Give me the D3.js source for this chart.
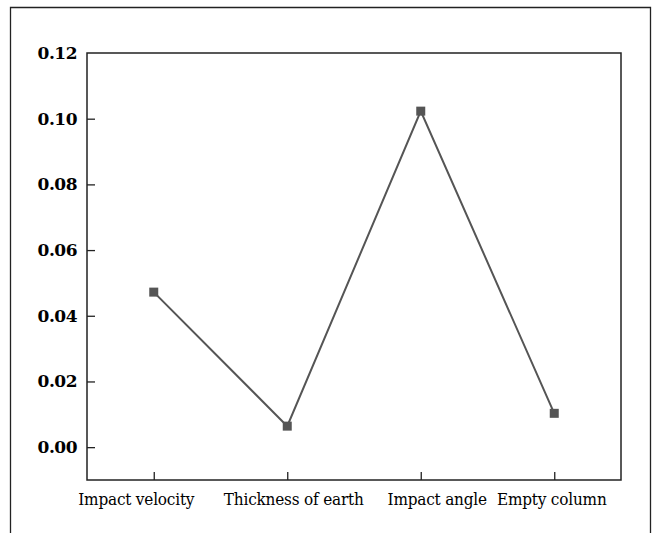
<!DOCTYPE html>
<html>
<head>
<meta charset="utf-8">
<script src="https://cdn.jsdelivr.net/npm/d3@7/dist/d3.min.js"></script>
<style>
  html, body { margin: 0; padding: 0; background: #fff; }
  svg { display: block; }
</style>
</head>
<body>
<div id="chart"></div>
<script>
// factor names and their range values
const factors = ["Impact velocity", "Thickness of earth", "Impact angle", "Empty column"];
const rangeValues = [0.0472, 0.0064, 0.1023, 0.0103];
const yTicks = [0, 0.02, 0.04, 0.06, 0.08, 0.10, 0.12];

// the source figure sets its category labels a little off their ticks
const labelNudge = { "Impact velocity": -18, "Thickness of earth": 6, "Impact angle": 16, "Empty column": -3 };

const width = 657, height = 533;
const margin = { top: 53, right: 36, bottom: 53, left: 87 };
const innerW = width - margin.left - margin.right;
const innerH = height - margin.top - margin.bottom;

const svg = d3.select("#chart").append("svg")
    .attr("width", width)
    .attr("height", height);

// outer frame (open at the bottom, as in the cropped figure)
svg.append("path")
    .attr("d", `M10.5,${height}V7.5H650.5V${height}`)
    .attr("fill", "none")
    .attr("stroke", "#222")
    .attr("stroke-width", 1.3);

const chart = svg.append("g")
    .attr("transform", `translate(${margin.left},${margin.top})`);

const x = d3.scalePoint()
    .domain(factors)
    .range([0, innerW])
    .padding(0.5);

const y = d3.scaleLinear()
    .domain([-0.01, 0.12])
    .range([innerH, 0]);

// plot box
chart.append("rect")
    .attr("width", innerW)
    .attr("height", innerH)
    .attr("fill", "none")
    .attr("stroke", "#222")
    .attr("stroke-width", 1.5);

// y axis, ticks pointing inward
const yAxis = chart.append("g")
    .call(d3.axisLeft(y).tickValues(yTicks).tickSize(-8).tickPadding(10).tickFormat(d3.format(".2f")));
yAxis.select(".domain").remove();
yAxis.selectAll("line").attr("stroke", "#222").attr("stroke-width", 1.3);
yAxis.selectAll("text")
    .style("font-family", "'DejaVu Serif', serif")
    .style("font-weight", "bold")
    .style("font-size", "17px")
    .style("letter-spacing", "-0.5px")
    .attr("fill", "#000");
yAxis.selectAll(".tick").filter(d => d === 0.12).select("line").remove();

// x axis, ticks pointing inward
const xAxis = chart.append("g")
    .attr("transform", `translate(0,${innerH})`)
    .call(d3.axisBottom(x).tickSize(-8).tickPadding(13));
xAxis.select(".domain").remove();
xAxis.selectAll("line").attr("stroke", "#222").attr("stroke-width", 1.3);
xAxis.selectAll("text")
    .attr("dx", d => labelNudge[d] || 0)
    .style("font-family", "'DejaVu Serif Condensed', 'DejaVu Serif', serif")
    .style("font-stretch", "condensed")
    .style("font-size", "17px")
    .style("letter-spacing", "-0.2px")
    .attr("fill", "#000");

const pts = factors.map((f, i) => ({ f, v: rangeValues[i] }));

chart.append("path")
    .datum(pts)
    .attr("fill", "none")
    .attr("stroke", "#555")
    .attr("stroke-width", 2)
    .attr("d", d3.line().x(d => x(d.f)).y(d => y(d.v)));

chart.append("g")
    .selectAll("rect")
    .data(pts)
    .enter().append("rect")
    .attr("x", d => x(d.f) - 4.5)
    .attr("y", d => y(d.v) - 4.5)
    .attr("width", 9)
    .attr("height", 9)
    .attr("fill", "#555");
</script>
</body>
</html>
